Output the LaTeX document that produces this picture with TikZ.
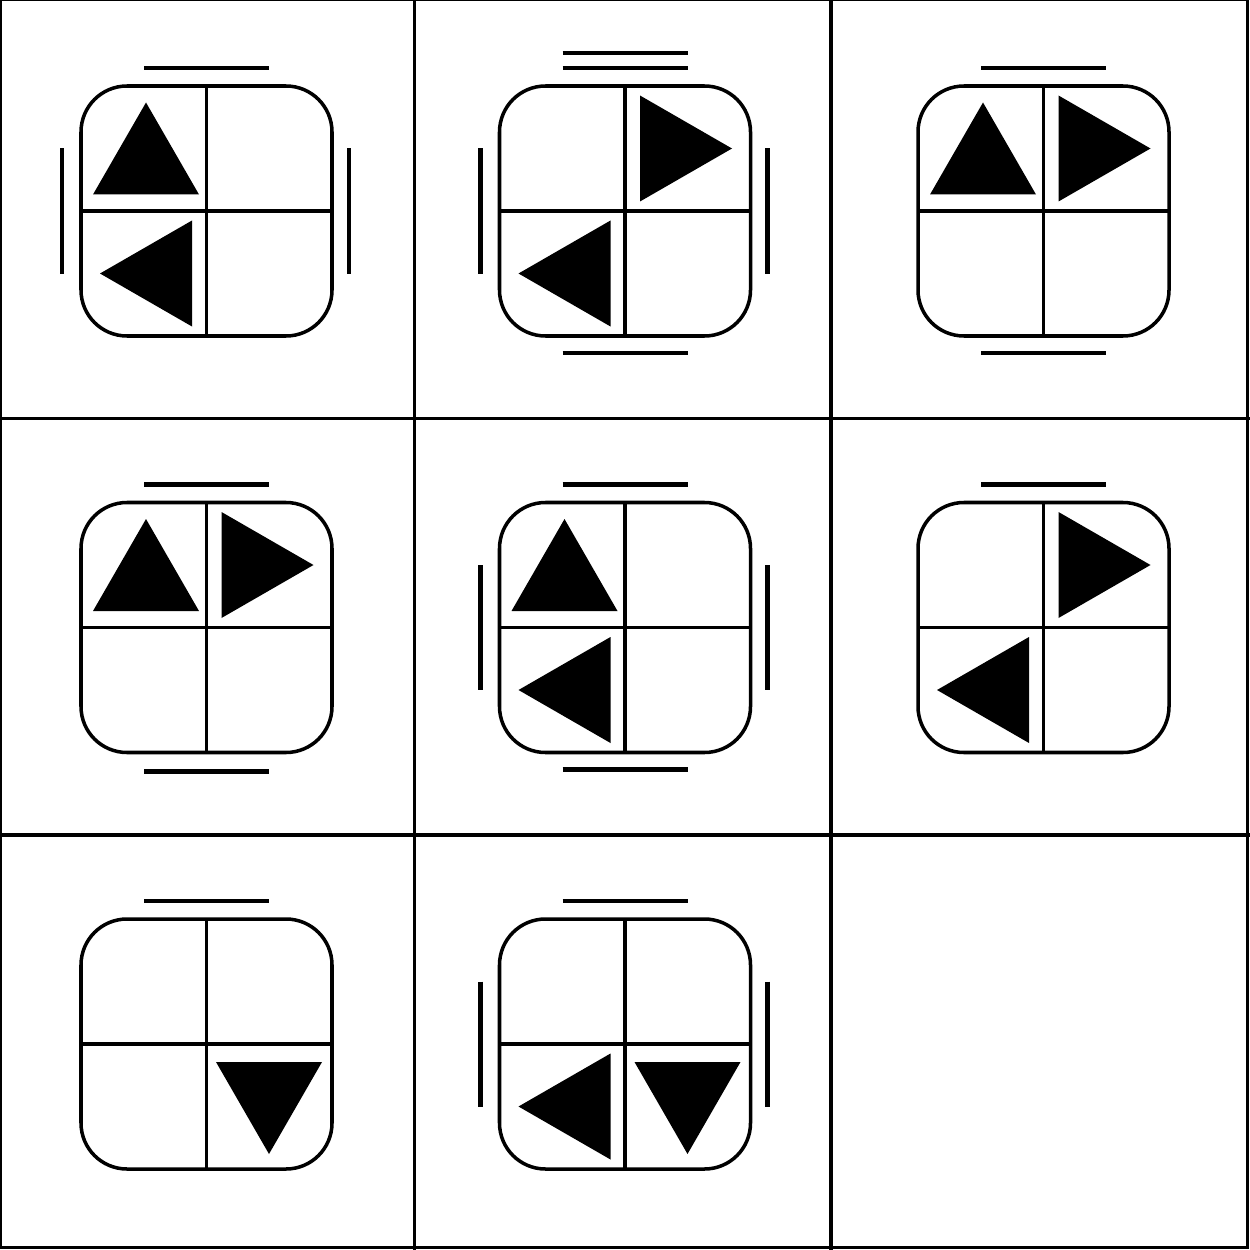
\documentclass[tikz,border=0pt]{standalone}
\usepackage{tikz}
\usetikzlibrary{positioning}

\begin{document}
\begin{tikzpicture}[x=1cm, y=1cm,
    gridline/.style={line width=1.0pt},
    tile/.style={line width=1.0pt, rounded corners=0.46cm},
    divider/.style={line width=0.9pt},
    sideline/.style={line width=1.15pt},
    tri/.style={fill=black, draw=none}]
  \useasboundingbox (0.00, 0.00) rectangle (12.50, -12.50);
  % frame and 3x3 grid
  \draw[gridline] (0.005, 0.01) rectangle (12.475, -12.475);
  \draw[gridline] (4.145, 0.00) to (4.145, -12.50);
  \draw[gridline] (8.31, 0.00) to (8.31, -12.50);
  \draw[gridline] (0.00, -4.185) to (12.50, -4.185);
  \draw[gridline] (0.00, -8.35) to (12.50, -8.35);
  % row 1, column 1
  \draw[tile] (0.81, -0.86) rectangle (3.32, -3.36);
  \draw[divider] (2.065, -0.86) to (2.065, -3.36);
  \draw[divider] (0.81, -2.11) to (3.32, -2.11);
  \fill[tri] (0.93, -1.945) -- (1.99, -1.945) -- (1.46, -1.025) -- cycle;
  \fill[tri] (1.00, -2.735) -- (1.92, -2.205) -- (1.92, -3.265) -- cycle;
  \draw[sideline] (1.44, -0.68) to (2.69, -0.68);
  \draw[sideline] (0.62, -1.485) to (0.62, -2.735);
  \draw[sideline] (3.49, -1.485) to (3.49, -2.735);
  % row 1, column 2
  \draw[tile] (4.995, -0.86) rectangle (7.505, -3.36);
  \draw[divider] (6.25, -0.86) to (6.25, -3.36);
  \draw[divider] (4.995, -2.11) to (7.505, -2.11);
  \fill[tri] (7.32, -1.485) -- (6.40, -0.955) -- (6.40, -2.015) -- cycle;
  \fill[tri] (5.185, -2.735) -- (6.105, -2.205) -- (6.105, -3.265) -- cycle;
  \draw[sideline] (5.625, -0.53) to (6.875, -0.53);
  \draw[sideline] (5.625, -0.68) to (6.875, -0.68);
  \draw[sideline] (5.625, -3.53) to (6.875, -3.53);
  \draw[sideline] (4.805, -1.485) to (4.805, -2.735);
  \draw[sideline] (7.675, -1.485) to (7.675, -2.735);
  % row 1, column 3
  \draw[tile] (9.18, -0.86) rectangle (11.69, -3.36);
  \draw[divider] (10.435, -0.86) to (10.435, -3.36);
  \draw[divider] (9.18, -2.11) to (11.69, -2.11);
  \fill[tri] (9.30, -1.945) -- (10.36, -1.945) -- (9.83, -1.025) -- cycle;
  \fill[tri] (11.505, -1.485) -- (10.585, -0.955) -- (10.585, -2.015) -- cycle;
  \draw[sideline] (9.81, -0.68) to (11.06, -0.68);
  \draw[sideline] (9.81, -3.53) to (11.06, -3.53);
  % row 2, column 1
  \draw[tile] (0.81, -5.025) rectangle (3.32, -7.525);
  \draw[divider] (2.065, -5.025) to (2.065, -7.525);
  \draw[divider] (0.81, -6.275) to (3.32, -6.275);
  \fill[tri] (0.93, -6.11) -- (1.99, -6.11) -- (1.46, -5.19) -- cycle;
  \fill[tri] (3.135, -5.65) -- (2.215, -5.12) -- (2.215, -6.18) -- cycle;
  \draw[sideline] (1.44, -4.845) to (2.69, -4.845);
  \draw[sideline] (1.44, -7.715) to (2.69, -7.715);
  % row 2, column 2
  \draw[tile] (4.995, -5.025) rectangle (7.505, -7.525);
  \draw[divider] (6.25, -5.025) to (6.25, -7.525);
  \draw[divider] (4.995, -6.275) to (7.505, -6.275);
  \fill[tri] (5.115, -6.11) -- (6.175, -6.11) -- (5.645, -5.19) -- cycle;
  \fill[tri] (5.185, -6.90) -- (6.105, -6.37) -- (6.105, -7.43) -- cycle;
  \draw[sideline] (5.625, -4.845) to (6.875, -4.845);
  \draw[sideline] (5.625, -7.695) to (6.875, -7.695);
  \draw[sideline] (4.805, -5.65) to (4.805, -6.90);
  \draw[sideline] (7.675, -5.65) to (7.675, -6.90);
  % row 2, column 3
  \draw[tile] (9.18, -5.025) rectangle (11.69, -7.525);
  \draw[divider] (10.435, -5.025) to (10.435, -7.525);
  \draw[divider] (9.18, -6.275) to (11.69, -6.275);
  \fill[tri] (11.505, -5.65) -- (10.585, -5.12) -- (10.585, -6.18) -- cycle;
  \fill[tri] (9.37, -6.90) -- (10.29, -6.37) -- (10.29, -7.43) -- cycle;
  \draw[sideline] (9.81, -4.845) to (11.06, -4.845);
  % row 3, column 1
  \draw[tile] (0.81, -9.19) rectangle (3.32, -11.69);
  \draw[divider] (2.065, -9.19) to (2.065, -11.69);
  \draw[divider] (0.81, -10.44) to (3.32, -10.44);
  \fill[tri] (2.69, -11.54) -- (2.16, -10.62) -- (3.22, -10.62) -- cycle;
  \draw[sideline] (1.44, -9.01) to (2.69, -9.01);
  % row 3, column 2
  \draw[tile] (4.995, -9.19) rectangle (7.505, -11.69);
  \draw[divider] (6.25, -9.19) to (6.25, -11.69);
  \draw[divider] (4.995, -10.44) to (7.505, -10.44);
  \fill[tri] (5.185, -11.065) -- (6.105, -10.535) -- (6.105, -11.595) -- cycle;
  \fill[tri] (6.875, -11.54) -- (6.345, -10.62) -- (7.405, -10.62) -- cycle;
  \draw[sideline] (5.625, -9.01) to (6.875, -9.01);
  \draw[sideline] (4.805, -9.815) to (4.805, -11.065);
  \draw[sideline] (7.675, -9.815) to (7.675, -11.065);
\end{tikzpicture}
\end{document}
